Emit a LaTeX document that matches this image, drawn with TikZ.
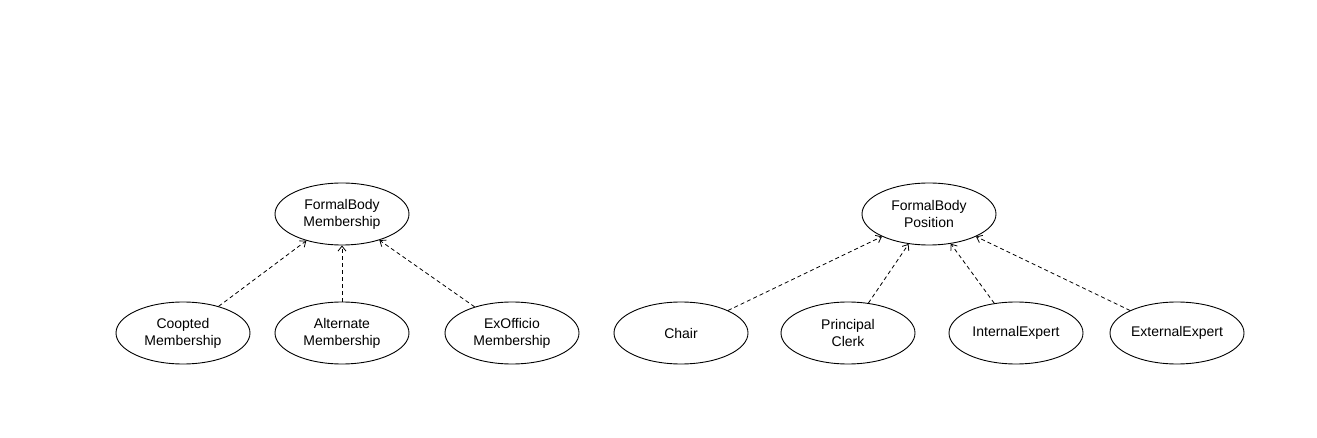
\documentclass[tikz,border=0pt]{standalone}
\usepackage{fontspec}
\setmainfont{Liberation Sans}
\usetikzlibrary{shapes.geometric,arrows.meta}
\begin{document}
\begin{tikzpicture}[x=1pt,y=-1pt,
  cls/.style={ellipse,draw,line width=0.9pt,minimum width=134pt,minimum height=62pt,inner sep=0pt,align=center,font=\fontsize{14}{17}\selectfont},
  gen/.style={draw,line width=0.8pt,dash pattern=on 4pt off 3pt,-{Straight Barb[length=5pt,width=8pt]}}]
\useasboundingbox (0,0) rectangle (1317,438);
\node[cls] (fbm) at (342,214) {FormalBody\\Membership};
\node[cls] (coop) at (183,333) {Coopted\\Membership};
\node[cls] (alt) at (342,333) {Alternate\\Membership};
\node[cls] (exo) at (512,333) {ExOfficio\\Membership};
\node[cls] (fbp) at (929,214) {FormalBody\\Position};
\node[cls] (chair) at (681,333) {Chair};
\node[cls] (pc) at (848,333) {Principal\\Clerk};
\node[cls] (ie) at (1016,333) {InternalExpert};
\node[cls] (ee) at (1177,333) {ExternalExpert};
\draw[gen] (coop) -- (fbm);
\draw[gen] (alt) -- (fbm);
\draw[gen] (exo) -- (fbm);
\draw[gen] (chair) -- (fbp);
\draw[gen] (pc) -- (fbp);
\draw[gen] (ie) -- (fbp);
\draw[gen] (ee) -- (fbp);
\end{tikzpicture}
\end{document}
